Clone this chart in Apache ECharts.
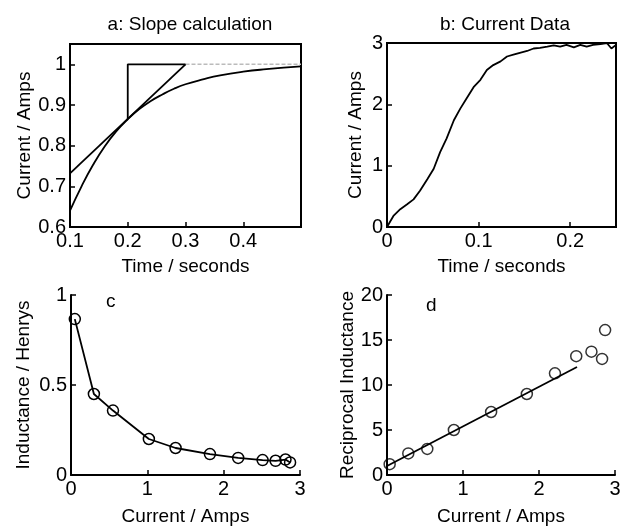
<!DOCTYPE html>
<html>
<head>
<meta charset="utf-8">
<script src="https://cdn.jsdelivr.net/npm/echarts@6.0.0/dist/echarts.min.js"></script>
<style>
  html, body { margin: 0; padding: 0; background: #fff; }
  #chart { width: 632px; height: 527px; }
</style>
</head>
<body>
<div id="chart"></div>
<script type="text/javascript">

// a: slope calculation
const slopeTime    = [0.10, 0.12, 0.14, 0.16, 0.18, 0.20, 0.22, 0.24, 0.26, 0.28, 0.30, 0.33, 0.36, 0.40, 0.44, 0.50];
const slopeCurrent = [0.640, 0.700, 0.753, 0.798, 0.835, 0.865, 0.890, 0.910, 0.926, 0.940, 0.951, 0.963, 0.973, 0.982, 0.988, 0.995];
const tangentTime    = [0.10, 0.30];
const tangentCurrent = [0.732, 1.0];
const triangleTime    = [0.20, 0.20, 0.30];
const triangleCurrent = [0.865, 1.0, 1.0];
const finalTime    = [0.30, 0.50];
const finalCurrent = [1.0, 1.0];

// b: current data
const dataTime = [0, 0.002, 0.007, 0.0145, 0.022, 0.029, 0.036, 0.044, 0.051, 0.058, 0.065, 0.073, 0.080, 0.087,
  0.095, 0.102, 0.109, 0.116, 0.124, 0.131, 0.138, 0.145, 0.153, 0.160, 0.167, 0.175, 0.182, 0.189, 0.196,
  0.204, 0.211, 0.218, 0.225, 0.233, 0.240, 0.245, 0.250];
const dataCurrent = [0, 0.02, 0.18, 0.29, 0.37, 0.45, 0.59, 0.78, 0.95, 1.22, 1.44, 1.74, 1.93, 2.10,
  2.29, 2.40, 2.56, 2.64, 2.70, 2.78, 2.81, 2.84, 2.87, 2.91, 2.92, 2.94, 2.96, 2.94, 2.97,
  2.93, 2.97, 2.94, 2.97, 2.98, 3.00, 2.91, 2.97];

// c: inductance, d: reciprocal inductance
const indCurrent = [0.05, 0.30, 0.55, 1.02, 1.37, 1.82, 2.19, 2.51, 2.68, 2.81, 2.87];
const inductance = [0.866, 0.45, 0.358, 0.20, 0.15, 0.116, 0.095, 0.083, 0.079, 0.086, 0.070];
const recCurrent = [0.035, 0.28, 0.53, 0.88, 1.37, 1.84, 2.21, 2.49, 2.69, 2.83, 2.87];
const recInductance = [1.2, 2.4, 2.9, 5.0, 7.0, 9.0, 11.3, 13.2, 13.7, 12.9, 16.1];
const fitCurrent = [0, 2.5];
const fitRecInductance = [1.0, 12.0];

const FONT = 'Liberation Sans';
const zip = (xs, ys) => xs.map((x, i) => [x, ys[i]]);

const textStyle = { color: '#000', fontFamily: FONT, fontSize: 19 };

function axis(grid, min, max, interval, name, gap, hideMax) {
  return {
    gridIndex: grid, type: 'value', min: min, max: max, interval: interval,
    name: name, nameLocation: 'middle', nameGap: gap, nameTextStyle: textStyle,
    splitLine: { show: false },
    axisLine: { lineStyle: { color: '#000', width: 2 } },
    axisTick: { inside: true, length: 5, lineStyle: { color: '#000', width: 1.5 } },
    axisLabel: { color: '#000', fontFamily: FONT, fontSize: 20, margin: 4, showMaxLabel: !hideMax }
  };
}
function line(xi, data, extra) {
  return Object.assign({
    type: 'line', xAxisIndex: xi, yAxisIndex: xi, data: data,
    showSymbol: false, symbol: 'none', animation: false,
    lineStyle: { color: '#000', width: 1.8 }
  }, extra || {});
}

const chart = echarts.init(document.getElementById('chart'));
const option = {
  animation: false,
  backgroundColor: '#fff',
  title: [
    { text: 'a: Slope calculation', left: 185, top: 10, textAlign: 'center', textStyle: Object.assign({ fontWeight: 'normal' }, textStyle) },
    { text: 'b: Current Data', left: 500, top: 10, textAlign: 'center', textStyle: Object.assign({ fontWeight: 'normal' }, textStyle) },
    { text: 'c', left: 101, top: 287, textStyle: Object.assign({ fontWeight: 'normal' }, textStyle) },
    { text: 'd', left: 421, top: 291, textStyle: Object.assign({ fontWeight: 'normal' }, textStyle) }
  ],
  grid: [
    { left: 70, top: 44, width: 231, height: 183, show: true, borderColor: '#000', borderWidth: 2 },
    { left: 387, top: 43, width: 229, height: 184, show: true, borderColor: '#000', borderWidth: 2 },
    { left: 71, top: 295, width: 229, height: 182 },
    { left: 387, top: 295, width: 228, height: 181 }
  ],
  xAxis: [
    axis(0, 0.1, 0.5, 0.1, 'Time / seconds', 30, true),
    axis(1, 0, 0.25, 0.1, 'Time / seconds', 30, true),
    axis(2, 0, 3, 1, 'Current / Amps', 32, false),
    axis(3, 0, 3, 1, 'Current / Amps', 32, false)
  ],
  yAxis: [
    axis(0, 0.6, 1.05, 0.1, 'Current / Amps', 36, true),
    axis(1, 0, 3, 1, 'Current / Amps', 22, false),
    axis(2, 0, 1, 0.5, 'Inductance / Henrys', 38, false),
    axis(3, 0, 20, 5, 'Reciprocal Inductance', 30, false)
  ],
  series: [
    line(0, zip(finalTime, finalCurrent), { lineStyle: { color: '#bbb', width: 1.5, type: [4, 2] } }),
    line(0, zip(slopeTime, slopeCurrent), { smooth: true }),
    line(0, zip(tangentTime, tangentCurrent)),
    line(0, zip(triangleTime, triangleCurrent)),
    line(1, zip(dataTime, dataCurrent)),
    line(2, zip(indCurrent, inductance), {
      showSymbol: true, symbol: 'circle', symbolSize: 11,
      itemStyle: { color: 'transparent', borderColor: '#000', borderWidth: 1.5 }
    }),
    line(3, zip(fitCurrent, fitRecInductance)),
    {
      type: 'scatter', xAxisIndex: 3, yAxisIndex: 3, data: zip(recCurrent, recInductance),
      symbol: 'circle', symbolSize: 11, animation: false,
      itemStyle: { color: 'transparent', borderColor: '#000', borderWidth: 1.5 }
    }
  ]
};
chart.setOption(option);
</script>
</body>
</html>
